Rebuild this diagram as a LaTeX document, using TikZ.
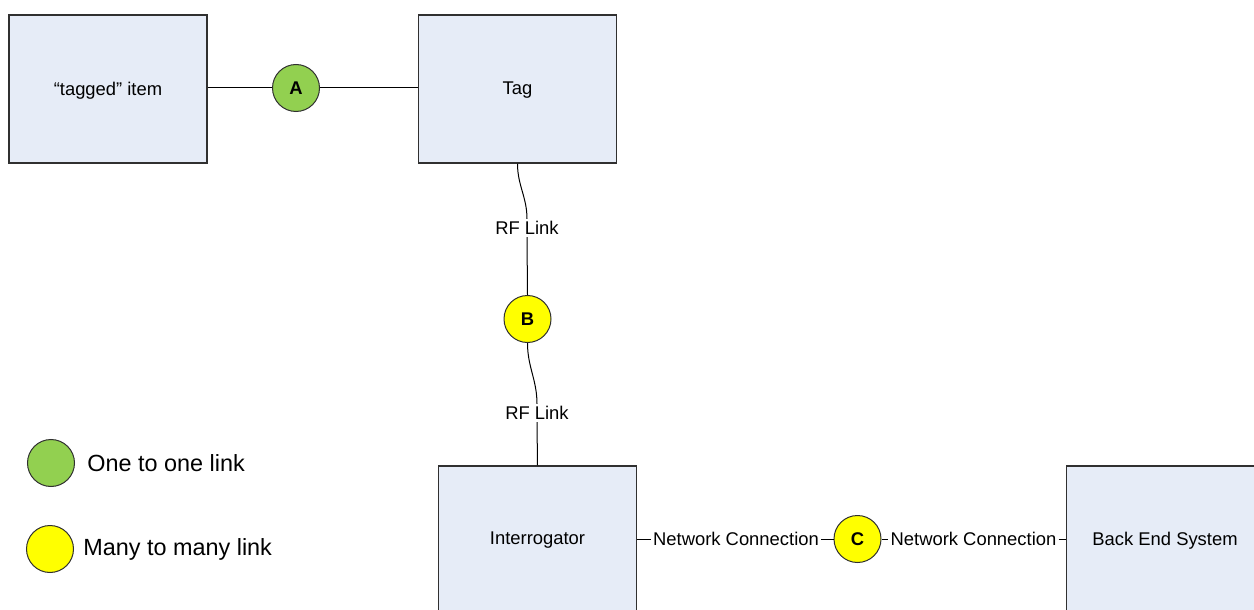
\documentclass[tikz,border=0pt]{standalone}
\usepackage{fontspec}
\setmainfont{Liberation Sans}
\definecolor{boxfill}{HTML}{E6ECF7}
\definecolor{boxline}{HTML}{303030}
\definecolor{onegreen}{HTML}{92D050}
\definecolor{manyyellow}{HTML}{FFFF00}
\begin{document}
\begin{tikzpicture}[x=0.5pt,y=-0.5pt,
  entity/.style={draw=boxline,fill=boxfill,line width=0.6pt,minimum width=99pt,minimum height=74pt,inner sep=0pt},
  lbl/.style={inner sep=1pt,font=\fontsize{9.2}{11}\selectfont},
  linkdot/.style={circle,draw=boxline,line width=0.5pt,minimum size=23.5pt,inner sep=0pt,font=\fontsize{9.2}{11}\selectfont\bfseries},
  onelink/.style={linkdot,fill=onegreen},
  manylink/.style={linkdot,fill=manyyellow},
  conn/.style={draw=black,line width=0.5pt},
  legendtxt/.style={anchor=west,inner sep=0pt,font=\fontsize{11.7}{14}\selectfont}]
\useasboundingbox (0,0) rectangle (1254,610);
\clip (0,0) rectangle (1254,610);
% entities
\node[entity] (item) at (108,89) {};
\node[lbl] (itemtxt) at (108,90.5) {“tagged” item};
\node[entity] (tag) at (517.5,89) {};
\node[lbl] (tagtxt) at (517.5,90.5) {Tag};
\node[entity] (intr) at (537.5,540) {};
\node[lbl] (intrtxt) at (537.5,540.5) {Interrogator};
\node[entity] (back) at (1165.5,540) {};
\node[lbl] (backtxt) at (1165,540.5) {Back End System};
% link dots
\node[onelink] (A) at (296,88) {A};
\node[manylink] (B) at (527.5,319) {B};
\node[manylink] (C) at (857.5,539) {C};
% labels
\node[lbl] (rf1) at (527,228) {RF Link};
\node[lbl] (rf2) at (537,413) {RF Link};
\node[lbl] (nc1) at (736,539) {Network Connection};
\node[lbl] (nc2) at (973.5,539) {Network Connection};
% connectors
\draw[conn] (item.east |- A.west) -- (A.west);
\draw[conn] (A.east) -- (tag.west |- A.east);
\draw[conn] (tag.south) to[out=-90,in=90] (rf1.north);
\draw[conn] (rf1.south) -- (B.north);
\draw[conn] (B.south) to[out=-90,in=90] (rf2.north);
\draw[conn] (rf2.south) -- (intr.north);
\draw[conn] (intr.east |- C.west) -- (nc1.west |- C.west);
\draw[conn] (nc1.east |- C.west) -- (C.west);
\draw[conn] (C.east) -- (nc2.west |- C.east);
\draw[conn] (nc2.east |- C.east) -- (back.west |- C.east);
% legend
\node[onelink] (legA) at (51,463) {};
\node[legendtxt] (legAtxt) at (87,463) {One to one link};
\node[manylink] (legB) at (50,549) {};
\node[legendtxt] (legBtxt) at (83,549) {Many to many link};
\end{tikzpicture}
\end{document}
